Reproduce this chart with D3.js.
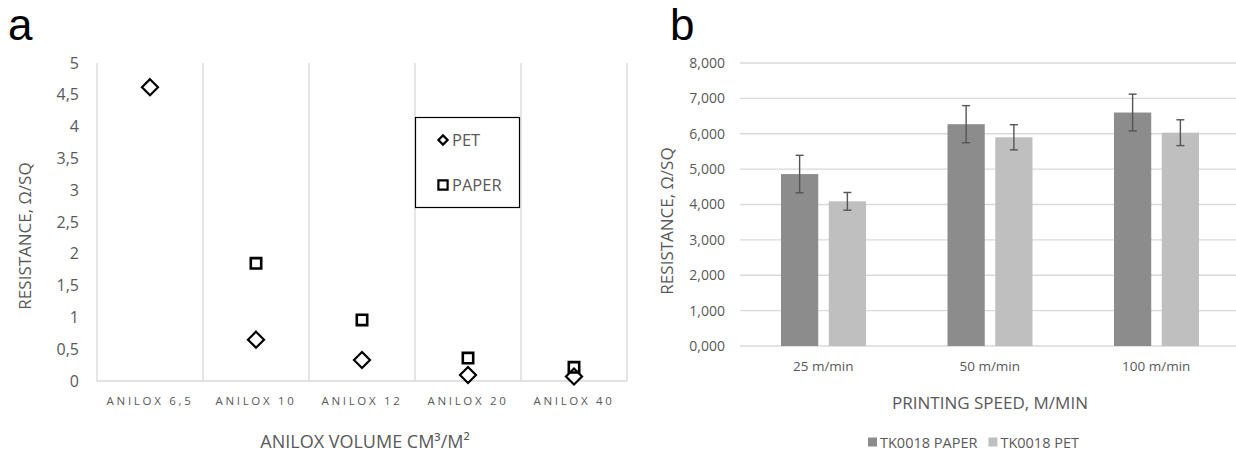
<!DOCTYPE html>
<html>
<head>
<meta charset="utf-8">
<script src="https://cdn.jsdelivr.net/npm/d3@7"></script>
<style>
  html, body { margin: 0; padding: 0; background: #fff; }
  svg { display: block; font-family: "Open Sans", "Noto Sans", sans-serif; }
</style>
</head>
<body>
<svg id="chart" width="1236" height="452"></svg>
<script>
// ---------- Panel a data ----------
const aniloxCategories = ["ANILOX 6,5", "ANILOX 10", "ANILOX 12", "ANILOX 20", "ANILOX 40"];
const petValues   = [4.62, 0.65, 0.33, 0.095, 0.07];
const paperValues = [null, 1.85, 0.96, 0.36, 0.215];
const aTicks = [0, 0.5, 1, 1.5, 2, 2.5, 3, 3.5, 4, 4.5, 5];
const aSeries = ["PET", "PAPER"];

// ---------- Panel b data ----------
const speedCategories = ["25 m/min", "50 m/min", "100 m/min"];
const bSeries = ["TK0018 PAPER", "TK0018 PET"];
const paperResistance = [4860, 6270, 6600];
const paperError      = [530, 525, 520];
const petResistance   = [4090, 5900, 6030];
const petError        = [250, 355, 365];
const bTicks = [0, 1000, 2000, 3000, 4000, 5000, 6000, 7000, 8000];

const svg = d3.select("#chart");
const grey = "#595959";

// ================= Panel a =================
const ax = d3.scaleBand().domain(aniloxCategories).range([97, 627]).padding(0);
const ay = d3.scaleLinear().domain([0, 5]).range([381, 63]);
const ga = svg.append("g");

// panel letter
ga.append("text").attr("x", 8).attr("y", 40).attr("font-size", 44)
  .attr("font-family", "Liberation Sans").attr("fill", "#000").text("a");

// vertical category separators
const sepX = aniloxCategories.map(c => ax(c)).concat([ax.range()[1]]);
ga.selectAll("line.sep").data(sepX).join("line")
  .attr("x1", d => d).attr("x2", d => d)
  .attr("y1", ay(5)).attr("y2", ay(0))
  .attr("stroke", "#d9d9d9").attr("stroke-width", 1.3);
// bottom axis line
ga.append("line").attr("x1", ax.range()[0]).attr("x2", ax.range()[1])
  .attr("y1", ay(0)).attr("y2", ay(0)).attr("stroke", "#d9d9d9").attr("stroke-width", 1.3);

// y ticks
const yAxisA = d3.axisLeft(ay).tickValues(aTicks).tickSize(0).tickPadding(18)
  .tickFormat(d => String(d).replace(".", ","));
const gya = ga.append("g").attr("transform", `translate(${ax.range()[0]},0)`).call(yAxisA);
gya.select(".domain").remove();
gya.selectAll("text").attr("font-size", 16).attr("fill", grey).attr("font-family", "Open Sans");

// x tick labels
const xAxisA = d3.axisBottom(ax).tickSize(0).tickPadding(16);
const gxa = ga.append("g").attr("transform", `translate(0,${ay(0)})`).call(xAxisA);
gxa.select(".domain").remove();
gxa.selectAll("text").attr("font-size", 11.5).attr("fill", grey)
  .attr("letter-spacing", "2.7px").attr("font-family", "Open Sans");

// axis titles
ga.append("text").attr("x", 365).attr("y", 448).attr("text-anchor", "middle")
  .attr("font-size", 18).attr("fill", grey).text("ANILOX VOLUME CM³/M²");
ga.append("text").attr("transform", "translate(31,236) rotate(-90)").attr("text-anchor", "middle")
  .attr("font-size", 17).attr("fill", grey).text("RESISTANCE, Ω/SQ");

const diamond = s => `M0,${-s}L${s},0L0,${s}L${-s},0Z`;
const square = s => `M${-s},${-s}H${s}V${s}H${-s}Z`;

// PET diamonds
const cx = c => ax(c) + ax.bandwidth() / 2;
ga.selectAll("path.pet").data(aniloxCategories.map((c, i) => ({ c, v: petValues[i] })).filter(d => d.v != null))
  .join("path").attr("class", "pet")
  .attr("transform", d => `translate(${cx(d.c)},${ay(d.v)})`)
  .attr("d", diamond(8)).attr("fill", "#fff").attr("stroke", "#000").attr("stroke-width", 2.2);
// PAPER squares
ga.selectAll("path.paper").data(aniloxCategories.map((c, i) => ({ c, v: paperValues[i] })).filter(d => d.v != null))
  .join("path").attr("class", "paper")
  .attr("transform", d => `translate(${cx(d.c)},${ay(d.v)})`)
  .attr("d", square(5.2)).attr("fill", "none").attr("stroke", "#000").attr("stroke-width", 2.6);

// legend a
const lg = ga.append("g");
lg.append("rect").attr("x", 415.5).attr("y", 117.5).attr("width", 104).attr("height", 90)
  .attr("fill", "#fff").attr("stroke", "#000").attr("stroke-width", 1.2);
aSeries.forEach((s, i) => {
  const yy = 140 + i * 45;
  lg.append("path").attr("transform", `translate(443,${yy})`)
    .attr("d", i === 0 ? diamond(4.6) : square(4.6))
    .attr("fill", "#fff").attr("stroke", "#000").attr("stroke-width", 2.2);
  lg.append("text").attr("x", 452).attr("y", yy + 6).attr("font-size", 16.5).attr("fill", grey).text(s);
});

// ================= Panel b =================
const bx0 = d3.scaleBand().domain(speedCategories).range([740, 1239.5]).padding(0);
const bx1 = d3.scaleBand().domain(bSeries).range([41, 126]).paddingInner(0.22);
const by = d3.scaleLinear().domain([0, 8000]).range([346, 63]);
const gb = svg.append("g");

gb.append("text").attr("x", 670).attr("y", 40).attr("font-size", 44)
  .attr("font-family", "Liberation Sans").attr("fill", "#000").text("b");

// gridlines
gb.selectAll("line.grid").data(bTicks).join("line")
  .attr("x1", 740).attr("x2", 1236)
  .attr("y1", d => by(d)).attr("y2", d => by(d))
  .attr("stroke", "#d9d9d9").attr("stroke-width", 1.3);

// y tick labels
const yAxisB = d3.axisLeft(by).tickValues(bTicks).tickSize(0).tickPadding(15)
  .tickFormat(d => d3.format(",.3f")(d / 1000).replace(".", ","));
const gyb = gb.append("g").attr("transform", "translate(740,0)").call(yAxisB);
gyb.select(".domain").remove();
gyb.selectAll("text").attr("font-size", 14).attr("fill", grey).attr("font-family", "Open Sans");

// x tick labels
const xAxisB = d3.axisBottom(bx0).tickSize(0).tickPadding(15);
const gxb = gb.append("g").attr("transform", `translate(0,${by(0)})`).call(xAxisB);
gxb.select(".domain").remove();
gxb.selectAll("text").attr("font-size", 13.5).attr("fill", grey).attr("font-family", "Open Sans");

// bars
const barColors = { "TK0018 PAPER": "#8c8c8c", "TK0018 PET": "#bfbfbf" };
const barData = [];
speedCategories.forEach((c, i) => {
  barData.push({ c, s: "TK0018 PAPER", v: paperResistance[i], e: paperError[i] });
  barData.push({ c, s: "TK0018 PET", v: petResistance[i], e: petError[i] });
});
gb.selectAll("rect.bar").data(barData).join("rect").attr("class", "bar")
  .attr("x", d => bx0(d.c) + bx1(d.s)).attr("width", bx1.bandwidth())
  .attr("y", d => by(d.v)).attr("height", d => by(0) - by(d.v))
  .attr("fill", d => barColors[d.s]);

// error bars
const ebx = d => bx0(d.c) + bx1(d.s) + bx1.bandwidth() / 2;
const eg = gb.selectAll("g.err").data(barData).join("g").attr("class", "err")
  .attr("stroke", "#555").attr("stroke-width", 1.4);
eg.append("line").attr("x1", ebx).attr("x2", ebx)
  .attr("y1", d => by(d.v + d.e)).attr("y2", d => by(d.v - d.e));
eg.append("line").attr("x1", d => ebx(d) - 4).attr("x2", d => ebx(d) + 4)
  .attr("y1", d => by(d.v + d.e)).attr("y2", d => by(d.v + d.e));
eg.append("line").attr("x1", d => ebx(d) - 4).attr("x2", d => ebx(d) + 4)
  .attr("y1", d => by(d.v - d.e)).attr("y2", d => by(d.v - d.e));

// axis titles
gb.append("text").attr("x", 990).attr("y", 409).attr("text-anchor", "middle")
  .attr("font-size", 17).attr("fill", grey).text("PRINTING SPEED, M/MIN");
gb.append("text").attr("transform", "translate(673,221) rotate(-90)").attr("text-anchor", "middle")
  .attr("font-size", 17).attr("fill", grey).text("RESISTANCE, Ω/SQ");

// legend b
const lgb = gb.append("g");
let lx = 868;
bSeries.forEach((s, i) => {
  lgb.append("rect").attr("x", lx).attr("y", 437.5).attr("width", 9).attr("height", 9).attr("fill", barColors[s]);
  const t = lgb.append("text").attr("x", lx + 12).attr("y", 447.5).attr("font-size", 14.5).attr("fill", grey).text(s);
  lx += 12 + t.node().getComputedTextLength() + 11;
});
</script>
</body>
</html>
